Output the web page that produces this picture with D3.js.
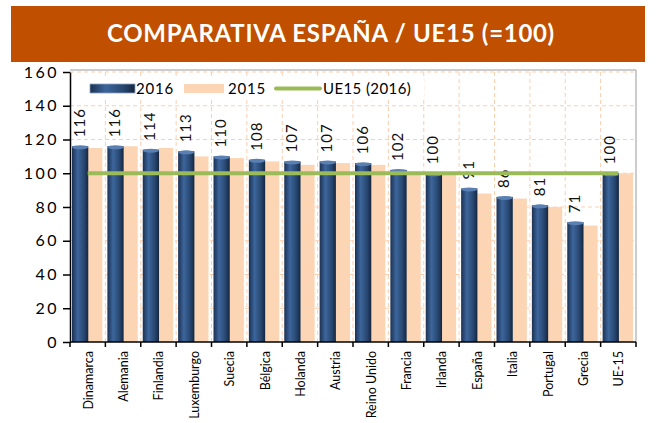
<!DOCTYPE html>
<html>
<head>
<meta charset="utf-8">
<script src="https://cdn.jsdelivr.net/npm/d3@7"></script>
<style>
  body { margin: 0; background: #fff; }
  svg { font-family: "Lato", "DejaVu Sans", sans-serif; }
</style>
</head>
<body>
<div id="chart"></div>
<script>
// data
const countries = ["Dinamarca", "Alemania", "Finlandia", "Luxemburgo", "Suecia", "Bélgica", "Holanda",
  "Austria", "Reino Unido", "Francia", "Irlanda", "España", "Italia", "Portugal", "Grecia", "UE-15"];
const values2016 = [116, 116, 114, 113, 110, 108, 107, 107, 106, 102, 100, 91, 86, 81, 71, 100];
const values2015 = [115, 116, 115, 110, 109, 107, 105, 106, 105, 101, 100, 88, 85, 80, 69, 100];
const ue15line = [100, 100, 100, 100, 100, 100, 100, 100, 100, 100, 100, 100, 100, 100, 100, 100];
const yTicks = [0, 20, 40, 60, 80, 100, 120, 140, 160];
const seriesNames = ["2016", "2015"];

const width = 656, height = 423;
const margin = { top: 72, right: 20, bottom: 81, left: 70 };

const svg = d3.select("#chart").append("svg")
  .attr("width", width)
  .attr("height", height);

// title banner
svg.append("rect")
  .attr("x", 11).attr("y", 6)
  .attr("width", 634).attr("height", 56)
  .attr("fill", "#c04f00");
svg.append("text")
  .attr("x", 331).attr("y", 42)
  .attr("text-anchor", "middle")
  .attr("fill", "#fff")
  .attr("font-size", 24)
  .attr("font-weight", "bold")
  .attr("letter-spacing", 0.7)
  .text("COMPARATIVA ESPAÑA / UE15 (=100)");

// gradient for the dark bars (cylinder look)
const defs = svg.append("defs");
const grad = defs.append("linearGradient")
  .attr("id", "darkBar")
  .attr("x1", "0%").attr("y1", "0").attr("x2", "100%").attr("y2", "0");
grad.append("stop").attr("offset", "0%").attr("stop-color", "#1b3152");
grad.append("stop").attr("offset", "35%").attr("stop-color", "#3d669c");
grad.append("stop").attr("offset", "75%").attr("stop-color", "#27466f");
grad.append("stop").attr("offset", "100%").attr("stop-color", "#15263f");

const x = d3.scaleBand()
  .domain(countries)
  .range([margin.left, width - margin.right])
  .padding(0);

const xs = d3.scaleBand()
  .domain(seriesNames)
  .range([2, x.bandwidth() - 2])
  .paddingInner(0.05);

const y = d3.scaleLinear()
  .domain([0, 160])
  .range([height - margin.bottom, margin.top]);

const plot = svg.append("g");

// horizontal grid
plot.selectAll(".hgrid")
  .data(yTicks.filter(d => d > 0))
  .enter()
  .append("line")
  .attr("x1", margin.left)
  .attr("x2", width - margin.right)
  .attr("y1", d => y(d))
  .attr("y2", d => y(d))
  .attr("stroke", "#fbcfae")
  .attr("stroke-width", 1)
  .attr("stroke-dasharray", "4,3");

// vertical grid at band edges
plot.selectAll(".vgrid")
  .data(countries.slice(1))
  .enter()
  .append("line")
  .attr("x1", d => x(d))
  .attr("x2", d => x(d))
  .attr("y1", y(160))
  .attr("y2", y(0))
  .attr("stroke", "#fbcfae")
  .attr("stroke-width", 1)
  .attr("stroke-dasharray", "4,3");

// plot border top/right
plot.append("path")
  .attr("d", `M${margin.left},${y(160) - 2}H${width - margin.right}V${y(0)}`)
  .attr("fill", "none")
  .attr("stroke", "#9a9a9a");

// legend
const legend = svg.append("g").attr("transform", "translate(76,77)");
legend.append("rect")
  .attr("width", 348).attr("height", 23)
  .attr("fill", "#fff");
legend.append("rect")
  .attr("x", 14).attr("y", 7).attr("width", 45).attr("height", 9)
  .attr("fill", "url(#darkBar)")
  .attr("stroke", "#8aa0bd").attr("stroke-width", 0.8);
legend.append("text").attr("x", 60).attr("y", 16.5).attr("font-size", 15).attr("letter-spacing", 0.8).text("2016");
legend.append("rect")
  .attr("x", 108).attr("y", 7).attr("width", 40).attr("height", 9)
  .attr("fill", "#fcd5b4");
legend.append("text").attr("x", 152).attr("y", 16.5).attr("font-size", 15).attr("letter-spacing", 0.8).text("2015");
legend.append("line")
  .attr("x1", 200).attr("x2", 244).attr("y1", 11.5).attr("y2", 11.5)
  .attr("stroke", "#9bbb59").attr("stroke-width", 4).attr("stroke-linecap", "round");
legend.append("text").attr("x", 247).attr("y", 16.5).attr("font-size", 15).attr("letter-spacing", 0.4).text("UE15 (2016)");

// bars
const groups = plot.selectAll(".grp")
  .data(countries)
  .enter()
  .append("g")
  .attr("transform", d => `translate(${x(d)},0)`);

groups.append("rect")
  .attr("x", xs("2015"))
  .attr("width", xs.bandwidth() - 1)
  .attr("y", (d, i) => y(values2015[i]))
  .attr("height", (d, i) => y(0) - y(values2015[i]))
  .attr("fill", "#fcd5b4");

groups.append("rect")
  .attr("x", xs("2016"))
  .attr("width", xs.bandwidth() + 1)
  .attr("y", (d, i) => y(values2016[i]))
  .attr("height", (d, i) => y(0) - y(values2016[i]))
  .attr("fill", "url(#darkBar)");

// small top cap of dark bars
groups.append("ellipse")
  .attr("cx", xs("2016") + (xs.bandwidth() + 1) / 2)
  .attr("cy", (d, i) => y(values2016[i]) + 1)
  .attr("rx", (xs.bandwidth() + 1) / 2)
  .attr("ry", 2)
  .attr("fill", "#5a80b3");

// value labels
groups.append("text")
  .attr("transform", (d, i) =>
    `translate(${xs("2016") + xs.bandwidth() / 2 + 5},${y(values2016[i]) - 9}) rotate(-90)`)
  .attr("font-size", 15)
  .attr("letter-spacing", 1)
  .attr("fill", "#111")
  .text((d, i) => values2016[i]);

// UE15 line
const line = d3.line()
  .x((d, i) => x(countries[i]) + x.bandwidth() / 2)
  .y(d => y(d));
plot.append("path")
  .datum(ue15line)
  .attr("d", line)
  .attr("fill", "none")
  .attr("stroke", "#9bbb59")
  .attr("stroke-width", 4);

// y axis
const yAxis = svg.append("g")
  .attr("transform", `translate(${margin.left},0)`)
  .call(d3.axisLeft(y).tickValues(yTicks).tickSize(7).tickSizeOuter(0));
yAxis.select(".domain").attr("stroke", "#000").attr("stroke-width", 1.5);
yAxis.selectAll(".tick line").attr("stroke", "#000").attr("stroke-width", 1.5);
yAxis.selectAll(".tick text")
  .attr("font-size", 16)
  .attr("font-family", "Lato, sans-serif")
  .attr("letter-spacing", 2.5)
  .attr("fill", "#000")
  .attr("x", -11);

// x axis
const xAxis = svg.append("g")
  .attr("transform", `translate(0,${y(0)})`);
xAxis.append("line")
  .attr("x1", margin.left).attr("x2", width - margin.right)
  .attr("stroke", "#000").attr("stroke-width", 1.5);
xAxis.selectAll(".xtick")
  .data(countries.concat(["end"]))
  .enter()
  .append("line")
  .attr("x1", (d, i) => i < countries.length ? x(d) : x.range()[1])
  .attr("x2", (d, i) => i < countries.length ? x(d) : x.range()[1])
  .attr("y1", 0).attr("y2", 5)
  .attr("stroke", "#000").attr("stroke-width", 1.5);
xAxis.selectAll(".xlabel")
  .data(countries)
  .enter()
  .append("text")
  .attr("transform", d => `translate(${x(d) + x.bandwidth() / 2 + 5},9) rotate(-90)`)
  .attr("text-anchor", "end")
  .attr("font-size", 12.5)
  .attr("fill", "#000")
  .text(d => d);
</script>
</body>
</html>
